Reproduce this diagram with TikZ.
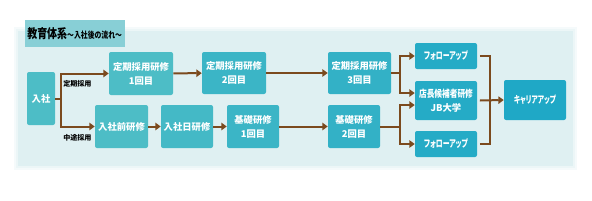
\documentclass[tikz,border=0pt]{standalone}
\usepackage{fontspec}
\newfontfamily\jp{Noto Sans CJK JP}[RawFeature={+palt}]
\newfontfamily\jpn{Noto Sans CJK JP}[RawFeature={+palt},FakeStretch=0.78]
\newfontfamily\jpk{Noto Sans CJK JP}[RawFeature={+palt},FakeStretch=0.68]
\usetikzlibrary{arrows.meta}
\definecolor{brn}{HTML}{7B4A1E}
\definecolor{panel}{HTML}{DFF0F2}
\definecolor{ttl}{HTML}{88CFD6}
\definecolor{cA}{HTML}{4DBDC6}
\definecolor{cB}{HTML}{44B9C6}
\definecolor{cC}{HTML}{3BB5C6}
\definecolor{cD}{HTML}{33B1C6}
\definecolor{cE}{HTML}{25ABC6}
\definecolor{cF}{HTML}{1FA8C6}
\tikzset{
  box/.style={rounded corners=1.5pt, text=white, align=center, inner sep=0pt,
    font={\jp\bfseries\fontsize{7}{10.5}\selectfont}},
  conn/.style={draw=brn, line width=1.5pt},
  arr/.style={conn, -{Triangle[width=5.5pt,length=4pt]}},
  lbl/.style={font={\jp\bfseries\fontsize{5.3}{6}\selectfont}, inner sep=0pt}
}
\begin{document}
\begin{tikzpicture}[x=0.75pt,y=-0.75pt]
\useasboundingbox[fill=white] (0,0) rectangle (592,200);
% panel with soft edge
\fill[panel!30] (14,27) rectangle (577,170);
\fill[panel!60] (16,29) rectangle (575,168);
\fill[panel] (18,31) rectangle (573,166);
% title
\node[fill=ttl, minimum width=75pt, minimum height=20.25pt, inner sep=0pt, anchor=north west]
  (title) at (25,20) {};
\node[anchor=west, inner sep=0pt] (titletext) at (27,33.5)
  {\jpn\bfseries\fontsize{9.6}{10}\selectfont 教育体系\fontsize{6.6}{7}\selectfont～入社後の流れ～};
% boxes
\node[box, fill=cA, minimum width=21pt, minimum height=39.75pt] (nyu) at (41,98.5) {入社};
\node[box, fill=cA, minimum width=48pt, minimum height=32.25pt] (t1) at (141,73.5) {定期採用研修\\1回目};
\node[box, fill=cC, minimum width=48pt, minimum height=31.5pt] (t2) at (234,73) {定期採用研修\\2回目};
\node[box, fill=cD, minimum width=47.25pt, minimum height=31.5pt] (t3) at (359.5,73) {定期採用研修\\3回目};
\node[box, fill=cA, minimum width=39.75pt, minimum height=32.25pt] (mae) at (121.5,126.5) {入社前研修};
\node[box, fill=cB, minimum width=39pt, minimum height=32.25pt] (day) at (187,126.5) {入社日研修};
\node[box, fill=cC, minimum width=39pt, minimum height=32.25pt] (k1) at (253,126.5) {基礎研修\\1回目};
\node[box, fill=cD, minimum width=39pt, minimum height=32.25pt] (k2) at (354,126.5) {基礎研修\\2回目};
\node[box, fill=cE, minimum width=46.5pt, minimum height=19.5pt] (f1) at (446,56) {\jpk\fontsize{7.6}{8}\selectfont フォローアップ};
\node[box, fill=cE, minimum width=46.5pt, minimum height=29.25pt] (jb) at (446,100.5) {\jpn\fontsize{7.4}{10.5}\selectfont 店長候補者研修\\JB大学};
\node[box, fill=cE, minimum width=46.5pt, minimum height=19.5pt] (f2) at (446,144) {\jpk\fontsize{7.6}{8}\selectfont フォローアップ};
\node[box, fill=cF, minimum width=46.5pt, minimum height=30pt] (car) at (535,100) {\jpk\fontsize{7.4}{8}\selectfont キャリアアップ};
% labels
\node[lbl, anchor=west] (l1) at (63,84) {定期採用};
\node[lbl, anchor=west] (l2) at (63,138) {中途採用};
% connectors
\coordinate (b1) at (61,98.5);
\draw[conn] (nyu.east) -- (b1);
\draw[arr] (b1) |- (t1.west);
\draw[arr] (b1) |- (mae.west);
\draw[arr] (t1) -- (t2);
\draw[arr] (t2) -- (t3);
\draw[arr] (mae) -- (day);
\draw[arr] (day) -- (k1);
\draw[arr] (k1) -- (k2);
\coordinate (b2) at (400,73);
\draw[conn] (t3.east) -- (b2);
\draw[arr] (b2) |- (f1.west);
\draw[arr] (b2) |- ([yshift=5.6pt]jb.west);
\coordinate (b3) at (400,126.5);
\draw[conn] (k2.east) -- (b3);
\draw[arr] (b3) |- ([yshift=-3.4pt]jb.west);
\draw[arr] (b3) |- (f2.west);
\coordinate (m) at (490,100);
\draw[conn] ([xshift=2pt]f1.east) -| (m);
\draw[conn] ([xshift=2pt]f2.east) -| (m);
\draw[arr] ([xshift=2pt]jb.east) -- (car.west);
\end{tikzpicture}
\end{document}
